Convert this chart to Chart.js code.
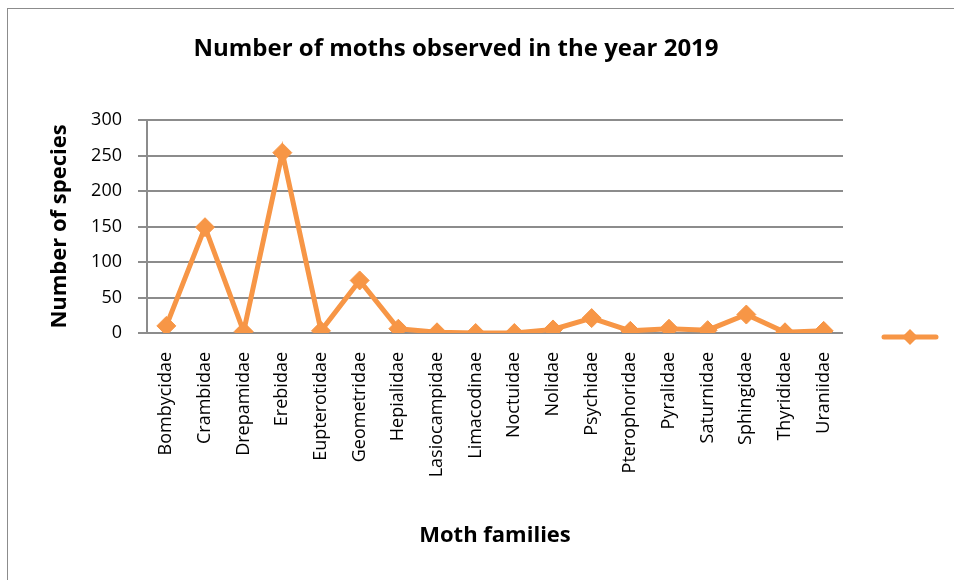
<!DOCTYPE html>
<html>
<head>
<meta charset="utf-8">
<script src="https://cdn.jsdelivr.net/npm/chart.js@4"></script>
<style>
html,body{margin:0;padding:0;background:#fff}
#wrap{position:relative;width:954px;height:580px;overflow:hidden}
#frame{position:absolute;left:7px;top:8px;width:960px;height:600px;border-left:1px solid #8c8c8c;border-top:1px solid #8c8c8c}
canvas{position:absolute;left:0;top:0}
</style>
</head>
<body>
<div id="wrap">
<div id="frame"></div>
<canvas id="chart" width="954" height="580"></canvas>
</div>
<script>
const families = ["Bombycidae","Crambidae","Drepamidae","Erebidae","Eupterotidae","Geometridae","Hepialidae","Lasiocampidae","Limacodinae","Noctuidae","Nolidae","Psychidae","Pterophoridae","Pyralidae","Saturnidae","Sphingidae","Thyrididae","Uraniidae"]
const species = [10,149,2,254,3,74,6,1,0,0,5,21,3,6,4,26,1,3]
const yTicks = [0,50,100,150,200,250,300]

const orange = "#F79646"
const fontName = "'Open Sans', Lato, sans-serif"

// chart title and the legend sample on the right
const extras = {
id:"extras",
afterDraw(chart){
const ctx = chart.ctx
ctx.save()
ctx.fillStyle = "#000"
ctx.font = "bold 24px " + fontName
ctx.textAlign = "center"
ctx.textBaseline = "middle"
ctx.fillText("Number of moths observed in the year 2019", 456, 49)

ctx.strokeStyle = orange
ctx.lineWidth = 5
ctx.lineCap = "round"
ctx.beginPath()
ctx.moveTo(884,337)
ctx.lineTo(936,337)
ctx.stroke()
ctx.fillStyle = orange
ctx.beginPath()
ctx.moveTo(910,329)
ctx.lineTo(918,337)
ctx.lineTo(910,345)
ctx.lineTo(902,337)
ctx.closePath()
ctx.fill()
ctx.restore()
}
}

new Chart(document.getElementById("chart"),{
type:"line",
data:{
labels:families,
datasets:[{
label:"",
data:species,
borderColor:orange,
backgroundColor:orange,
borderWidth:5,
tension:0,
pointStyle:"rectRot",
pointRadius:9.5,
pointHoverRadius:9.5,
pointBackgroundColor:orange,
pointBorderColor:orange,
pointBorderWidth:1
}]
},
options:{
responsive:false,
animation:false,
events:[],
layout:{padding:{left:0,right:111,top:120,bottom:0}},
plugins:{
legend:{display:false},
tooltip:{enabled:false}
},
scales:{
x:{
offset:true,
grid:{display:false},
border:{display:false},
ticks:{
autoSkip:false,
maxRotation:90,
minRotation:90,
padding:11,
color:"#000",
font:{family:fontName,size:18}
},
title:{
display:true,
text:"Moth families",
color:"#000",
font:{family:fontName,size:22,weight:"bold"},
padding:{top:0,bottom:31}
},
afterFit(scale){ scale.height = 247 }
},
y:{
min:0,
max:300,
afterBuildTicks(scale){ scale.ticks = yTicks.map(v=>({value:v})) },
grid:{color:"#8c8c8c",lineWidth:2,tickLength:9},
border:{display:true,color:"#8c8c8c",width:2},
ticks:{
padding:16,
color:"#000",
font:{family:fontName,size:18}
},
title:{
display:true,
text:"Number of species",
color:"#000",
font:{family:fontName,size:22,weight:"bold"},
padding:{top:47,bottom:0}
},
afterFit(scale){ scale.width = 147 }
}
}
},
plugins:[extras]
})
</script>
</body>
</html>
